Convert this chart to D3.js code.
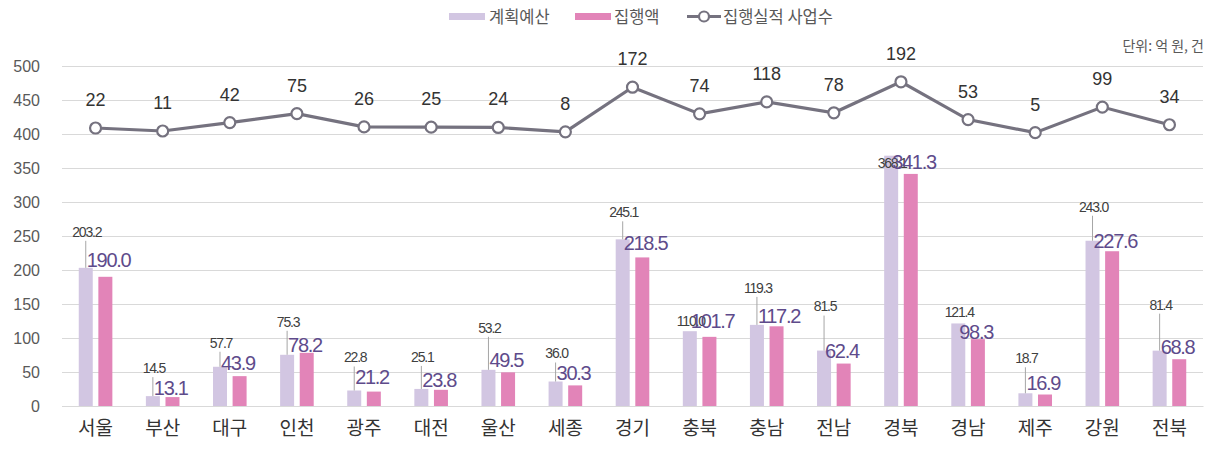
<!DOCTYPE html>
<html>
<head>
<meta charset="utf-8">
<script src="https://cdn.jsdelivr.net/npm/d3@7"></script>
<style>
  body { margin: 0; background: #fff; }
  svg { display: block; font-family: "Liberation Sans", Arial, "Noto Sans CJK KR", sans-serif; }
</style>
</head>
<body>
<div id="chart"></div>
<script>
var regions = ["서울", "부산", "대구", "인천", "광주", "대전", "울산", "세종", "경기", "충북", "충남", "전남", "경북", "경남", "제주", "강원", "전북"];
var planned = [203.2, 14.5, 57.7, 75.3, 22.8, 25.1, 53.2, 36.0, 245.1, 110.0, 119.3, 81.5, 368.1, 121.4, 18.7, 243.0, 81.4];
var spent = [190.0, 13.1, 43.9, 78.2, 21.2, 23.8, 49.5, 30.3, 218.5, 101.7, 117.2, 62.4, 341.3, 98.3, 16.9, 227.6, 68.8];
var projects = [22, 11, 42, 75, 26, 25, 24, 8, 172, 74, 118, 78, 192, 53, 5, 99, 34];
var yTicks = [0, 50, 100, 150, 200, 250, 300, 350, 400, 450, 500];
var seriesNames = ["계획예산", "집행액", "집행실적 사업수"];

// label placement (moved by hand in the original), offsets from the planned bar top
var plannedLabelDy = [-36, -28, -24, -33, -33, -32, -42, -28, -27, -10, -37, -44, 7, -11, -35, -34, -46];
var spentLabelDy = [-8, -8, -4, -10, -13, -9, -10, -9, 4, -10, -9, 0, 6, 9, -10, 0, -4];

var W = 1208, H = 452;
var margin = { left: 62, right: 5, top: 66, bottom: 46 };

var svg = d3.select('#chart').append('svg')
  .attr('width', W)
  .attr('height', H);

var x = d3.scaleBand()
  .domain(regions)
  .range([margin.left, W - margin.right]);

var x1 = d3.scaleBand()
  .domain(["planned", "spent"])
  .range([x.bandwidth() / 2 - 16.8, x.bandwidth() / 2 + 16.8])
  .paddingInner(0.286);

var y = d3.scaleLinear()
  .domain([0, 500])
  .range([H - margin.bottom, margin.top]);

// hidden secondary axis for project counts
var y2 = d3.scaleLinear()
  .domain([-1000, 250])
  .range([H - margin.bottom, margin.top]);

// gridlines
svg.append("g")
  .attr("transform", "translate(" + margin.left + ",0)")
  .call(d3.axisLeft(y).tickValues(yTicks).tickSize(-(W - margin.left - margin.right)).tickFormat(""))
  .call(g => g.select(".domain").remove())
  .selectAll("line")
  .attr("stroke", "#d9d9d9");

// y tick labels
svg.append("g")
  .selectAll("text")
  .data(yTicks)
  .enter().append("text")
  .attr("x", 40)
  .attr("y", d => y(d))
  .attr("dy", "0.35em")
  .attr("text-anchor", "end")
  .attr("font-size", "16px")
  .attr("fill", "#595959")
  .text(d => d);

// x labels
svg.append("g")
  .attr("transform", "translate(0," + (H - margin.bottom) + ")")
  .call(d3.axisBottom(x).tickSize(0).tickPadding(16))
  .call(g => g.select(".domain").attr("stroke", "#d9d9d9"))
  .selectAll("text")
  .attr("font-size", "19px")
  .attr("font-family", "'Noto Sans CJK KR', sans-serif")
  .attr("fill", "#333");

// bars
var groups = svg.selectAll(".grp")
  .data(regions)
  .enter().append("g")
  .attr("class", "grp")
  .attr("transform", d => "translate(" + x(d) + ",0)");

groups.append("rect")
  .attr("x", x1("planned"))
  .attr("y", (d, i) => y(planned[i]))
  .attr("width", x1.bandwidth())
  .attr("height", (d, i) => y(0) - y(planned[i]))
  .attr("fill", "#d2c6e2");

groups.append("rect")
  .attr("x", x1("spent"))
  .attr("y", (d, i) => y(spent[i]))
  .attr("width", x1.bandwidth())
  .attr("height", (d, i) => y(0) - y(spent[i]))
  .attr("fill", "#e284b8");

// leader lines
var pc = x1("planned") + x1.bandwidth() / 2;
var idx = d => regions.indexOf(d);
groups.filter(d => plannedLabelDy[idx(d)] < -18)
  .append("line")
  .attr("x1", pc)
  .attr("x2", pc)
  .attr("y1", d => y(planned[idx(d)]) + plannedLabelDy[idx(d)] + 9)
  .attr("y2", d => y(planned[idx(d)]))
  .attr("stroke", "#a6a6a6")
  .attr("stroke-width", 1);

groups.append("text")
  .attr("x", pc + 1)
  .attr("y", (d, i) => y(planned[i]) + plannedLabelDy[i])
  .attr("dy", "0.35em")
  .attr("text-anchor", "middle")
  .attr("font-size", "14px")
  .attr("letter-spacing", "-1.2px")
  .attr("fill", "#404040")
  .text((d, i) => planned[i].toFixed(1));

groups.append("text")
  .attr("x", pc + 1)
  .attr("y", (d, i) => y(planned[i]) + spentLabelDy[i])
  .attr("dy", "0.35em")
  .attr("text-anchor", "start")
  .attr("font-size", "20px")
  .attr("letter-spacing", "-1.3px")
  .attr("fill", "#5e4b8b")
  .text((d, i) => spent[i].toFixed(1));

// line series
var line = d3.line()
  .x((d, i) => x(regions[i]) + x.bandwidth() / 2)
  .y(d => y2(d));

svg.append("path")
  .datum(projects)
  .attr("d", line)
  .attr("fill", "none")
  .attr("stroke", "#75727f")
  .attr("stroke-width", 3.2);

svg.selectAll(".dot")
  .data(projects)
  .enter().append("circle")
  .attr("class", "dot")
  .attr("cx", (d, i) => x(regions[i]) + x.bandwidth() / 2)
  .attr("cy", d => y2(d))
  .attr("r", 5.5)
  .attr("fill", "#fff")
  .attr("stroke", "#75727f")
  .attr("stroke-width", 2.2);

svg.selectAll(".cnt")
  .data(projects)
  .enter().append("text")
  .attr("class", "cnt")
  .attr("x", (d, i) => x(regions[i]) + x.bandwidth() / 2)
  .attr("y", d => y2(d) - 22)
  .attr("text-anchor", "middle")
  .attr("font-size", "18px")
  .attr("fill", "#333")
  .text(d => d);

// legend
var lg = svg.append("g").attr("font-size", "16.5px").attr("fill", "#595959")
  .attr("font-family", "'Noto Sans CJK KR', sans-serif");
lg.append("rect").attr("x", 449).attr("y", 13).attr("width", 36).attr("height", 7).attr("fill", "#d2c6e2");
lg.append("text").attr("x", 489).attr("y", 22.5).text(seriesNames[0]);
lg.append("rect").attr("x", 575).attr("y", 13).attr("width", 36).attr("height", 7).attr("fill", "#e284b8");
lg.append("text").attr("x", 614).attr("y", 22.5).text(seriesNames[1]);
lg.append("line").attr("x1", 687).attr("x2", 721).attr("y1", 16.5).attr("y2", 16.5)
  .attr("stroke", "#75727f").attr("stroke-width", 3.2);
lg.append("circle").attr("cx", 704).attr("cy", 16.5).attr("r", 5).attr("fill", "#fff")
  .attr("stroke", "#75727f").attr("stroke-width", 2.2);
lg.append("text").attr("x", 723).attr("y", 22.5).text(seriesNames[2]);

// unit
svg.append("text")
  .attr("x", 1204)
  .attr("y", 51)
  .attr("text-anchor", "end")
  .attr("font-size", "14px")
  .attr("font-family", "'Noto Sans CJK KR', sans-serif")
  .attr("fill", "#595959")
  .text("단위: 억 원, 건");
</script>
</body>
</html>
